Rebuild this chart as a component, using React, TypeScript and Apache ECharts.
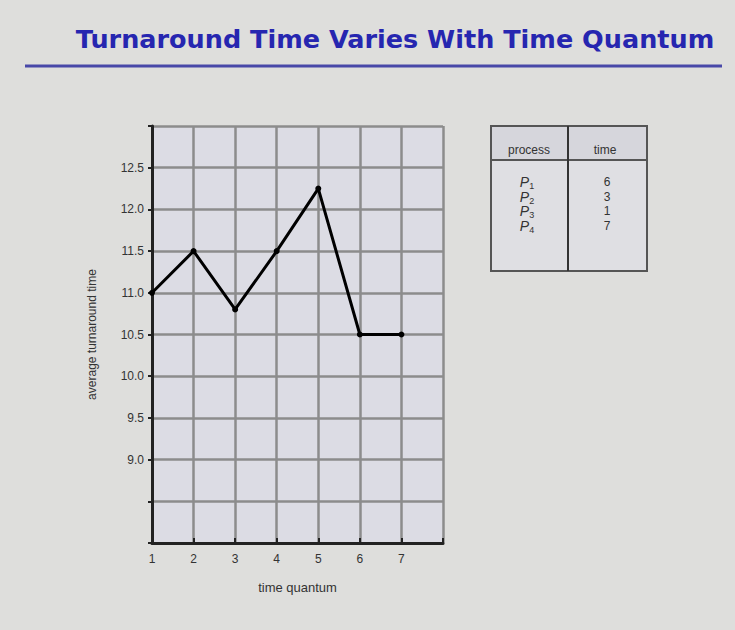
import React, { useEffect, useRef } from "react";
import * as echarts from "echarts";

const quantum = [1, 2, 3, 4, 5, 6, 7];
const avgTurnaround = [11.0, 11.5, 10.8, 11.5, 12.25, 10.5, 10.5];
const yLabels = ["9.0", "9.5", "10.0", "10.5", "11.0", "11.5", "12.0", "12.5"];
const processes = ["1", "2", "3", "4"];
const times = ["6", "3", "1", "7"];

export default function App() {
  const ref = useRef<HTMLDivElement>(null);
  useEffect(() => {
    document.body.style.margin = "0";
    const chart = echarts.init(ref.current!, null, { renderer: "svg" });
    const tableX = 491, tableY = 126, tableW = 156, tableH = 145, colX = 568, headH = 34;
    const rowTexts: any[] = [];
    processes.forEach((p, i) => {
      rowTexts.push({
        type: "text",
        x: 527, y: 182 + i * 14.5,
        style: {
          text: `{p|P}{s|${p}}`,
          align: "center", verticalAlign: "middle",
          rich: {
            p: { fontFamily: "Liberation Sans", fontStyle: "italic", fontSize: 14, fill: "#333" },
            s: { fontFamily: "Liberation Sans", fontSize: 9, fill: "#333", padding: [8, 0, 0, 0] },
          },
        },
      });
      rowTexts.push({
        type: "text",
        x: 607, y: 182 + i * 14.5,
        style: { text: times[i], align: "center", verticalAlign: "middle", fontFamily: "Liberation Sans", fontSize: 12, fill: "#333" },
      });
    });
    chart.setOption({
      animation: false,
      backgroundColor: "#dededc",
      grid: { left: 152, top: 126, width: 291, height: 417, show: true, backgroundColor: "#dcdce4", borderWidth: 0 },
      xAxis: {
        type: "value", min: 1, max: 8, interval: 1,
        name: "time quantum", nameLocation: "middle", nameGap: 38,
        nameTextStyle: { fontFamily: "Liberation Sans", fontSize: 13, color: "#333" },
        axisLine: { lineStyle: { color: "#222", width: 3 } },
        axisTick: { show: true, inside: true, length: 5, lineStyle: { color: "#222", width: 2 } },
        axisLabel: {
          fontFamily: "Liberation Sans", fontSize: 12, color: "#333", margin: 10,
          formatter: (v: number) => (quantum.includes(v) ? String(v) : ""),
        },
        splitLine: { show: true, lineStyle: { color: "#8c8c8c", width: 2.5 } },
      },
      yAxis: {
        type: "value", min: 8, max: 13, interval: 0.5,
        name: "average turnaround time", nameLocation: "middle", nameGap: 54,
        nameTextStyle: { fontFamily: "Liberation Sans", fontSize: 12, color: "#333" },
        axisLine: { show: true, lineStyle: { color: "#222", width: 3 } },
        axisTick: { show: true, length: 4, lineStyle: { color: "#222", width: 2 } },
        axisLabel: {
          fontFamily: "Liberation Sans", fontSize: 12, color: "#333", margin: 8,
          formatter: (v: number) => {
            const s = v.toFixed(1);
            return yLabels.includes(s) ? s : "";
          },
        },
        splitLine: { show: true, lineStyle: { color: "#8c8c8c", width: 2.5 } },
      },
      series: [
        {
          type: "line",
          data: quantum.map((q, i) => [q, avgTurnaround[i]]),
          lineStyle: { color: "#000", width: 3 },
          itemStyle: { color: "#000" },
          symbol: "circle", symbolSize: 6,
          clip: false,
        },
      ],
      graphic: [
        {
          type: "text", x: 395, y: 39,
          style: {
            text: "Turnaround Time Varies With Time Quantum",
            fontFamily: "DejaVu Sans", fontWeight: "bold", fontSize: 25.5, fill: "#2626b0",
            align: "center", verticalAlign: "middle",
          },
        },
        { type: "rect", shape: { x: 25, y: 64.5, width: 697, height: 3 }, style: { fill: "#4848a8" } },
        { type: "rect", shape: { x: tableX, y: tableY, width: tableW, height: tableH }, style: { fill: "#dfdfe3", stroke: "#555", lineWidth: 2 } },
        { type: "rect", shape: { x: tableX, y: tableY, width: tableW, height: headH }, style: { fill: "#d6d6dc", stroke: "#555", lineWidth: 2 } },
        { type: "line", shape: { x1: colX, y1: tableY, x2: colX, y2: tableY + tableH }, style: { stroke: "#333", lineWidth: 2 } },
        { type: "text", x: 529, y: 150, style: { text: "process", align: "center", verticalAlign: "middle", fontFamily: "Liberation Sans", fontSize: 12, fill: "#333" } },
        { type: "text", x: 605, y: 150, style: { text: "time", align: "center", verticalAlign: "middle", fontFamily: "Liberation Sans", fontSize: 12, fill: "#333" } },
        ...rowTexts,
      ],
    });
    return () => chart.dispose();
  }, []);
  return <div ref={ref} style={{ width: 735, height: 630 }} />;
}
